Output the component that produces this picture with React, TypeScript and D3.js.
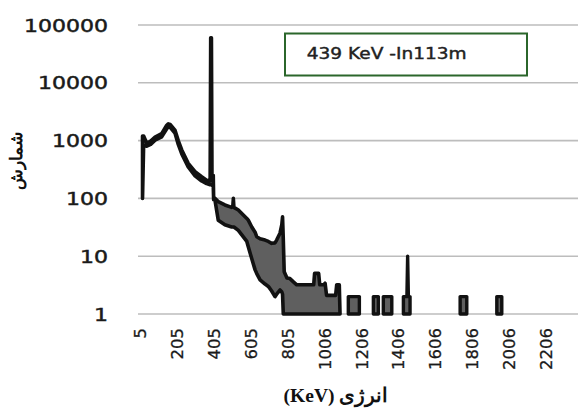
import React from 'react';
import * as d3 from 'd3';

const Y_TICKS = [1, 10, 100, 1000, 10000, 100000];
const X_TICKS = [5, 205, 405, 605, 805, 1006, 1206, 1406, 1606, 1806, 2006, 2206];

// main spectrum envelope: energy (keV), lower and upper counts
const SPEC_KEV = [16, 22, 39, 60, 84, 120, 145, 156, 166, 192, 210, 229, 264, 301, 337, 364, 383, 386, 390, 393, 400, 402, 409, 427, 463, 500, 506, 509, 512, 536, 582, 590, 609, 627, 636, 654, 681, 699, 717, 735, 744, 762, 772, 776, 780, 785, 800, 816, 835, 853, 945, 950, 972, 978, 1000, 1007, 1015, 1064, 1070, 1084, 1088];
const SPEC_LOW = [100, 830, 800, 860, 1020, 1160, 1550, 1750, 1700, 1350, 860, 590, 350, 245, 200, 180, 172, 172, 172, 170, 160, 95, 94, 42, 35, 32, 32, 32, 32, 28, 18, 14.6, 9, 5.8, 5, 3.9, 3.3, 3, 2.5, 2, 2.2, 2.6, 2.4, 2.2, 1, 1, 1, 1, 1, 1, 1, 1, 1, 1, 1, 1, 1, 1, 1, 1, 1];
const SPEC_HIGH = [1200, 1200, 900, 980, 1150, 1320, 1800, 1950, 1900, 1520, 1000, 690, 405, 290, 237, 207, 200, 60000, 60000, 260, 250, 105, 100, 88, 77, 70, 72, 100, 70, 63, 45, 42, 32, 26, 21.7, 20, 19, 18, 16.7, 17, 19, 25, 35, 48, 20, 5.4, 4.2, 4.1, 3.6, 3.2, 3.2, 5.05, 5.05, 3.2, 3.2, 3.4, 2.1, 2.1, 3.2, 3.2, 1];

// isolated low-count pulses
const PULSE_START = [1133, 1269, 1323, 1432, 1740, 1939];
const PULSE_END = [1193, 1296, 1369, 1468, 1776, 1966];
const PULSE_LEVEL = [2, 2, 2, 2, 2, 2];
const PULSE_SPIKE_KEV = [0, 0, 0, 1455, 0, 0];
const PULSE_SPIKE_VAL = [0, 0, 0, 10, 0, 0];

const LEGEND_TEXT = '439 KeV -In113m';
const X_TITLE = '(KeV) انرژی';
const Y_TITLE = 'شمارش';

type Pt = [number, number, number];

export default function App() {
  const W = 579, H = 408;
  const x = d3.scaleLinear().domain([5, 2206]).range([140.5, 546]);
  const y = d3.scaleLog().domain([1, 100000]).range([314, 25]);
  const gridX0 = 138, gridX1 = 578;

  const area = d3
    .area<Pt>()
    .x((d) => x(d[0]))
    .y0((d) => y(d[1]))
    .y1((d) => y(d[2]));

  const main: Pt[] = SPEC_KEV.map((k, i) => [k, SPEC_LOW[i], SPEC_HIGH[i]]);
  const pulses: Pt[][] = PULSE_START.map((s, i) => {
    const e = PULSE_END[i];
    const lv = PULSE_LEVEL[i];
    const pts: Pt[] = [[s, 1, lv]];
    if (PULSE_SPIKE_VAL[i] > 0) {
      const pk = PULSE_SPIKE_KEV[i];
      pts.push([pk - 4, 1, lv], [pk, 1, PULSE_SPIKE_VAL[i]], [pk + 4, 1, lv]);
    }
    pts.push([e, 1, lv]);
    return pts;
  });

  const tickFont = "'DejaVu Sans', Verdana, sans-serif";
  const serif = "'Liberation Serif', 'Times New Roman', 'DejaVu Serif', serif";

  return (
    <svg width={W} height={H} style={{ position: 'absolute', left: 0, top: 0, background: '#fff' }}>
      <rect x={0} y={0} width={W} height={H} fill="#fff" />
      {Y_TICKS.map((t) => (
        <g key={t}>
          <line x1={gridX0} x2={gridX1} y1={y(t)} y2={y(t)} stroke="#bdbdbd" strokeWidth={1.6} />
          <text
            x={108}
            y={y(t) + 6.6}
            textAnchor="end"
            fontFamily={tickFont}
            fontSize={18}
            fill="#1a1a1a"
            stroke="#1a1a1a"
            strokeWidth={0.5}
            textLength={String(t).length * 14}
            lengthAdjust="spacingAndGlyphs"
          >
            {t}
          </text>
        </g>
      ))}
      {X_TICKS.map((t) => (
        <text
          key={t}
          transform={`translate(${x(t) + 5.8},328) rotate(-90)`}
          textAnchor="end"
          fontFamily={tickFont}
          fontSize={16.5}
          fill="#1a1a1a"
          stroke="#1a1a1a"
          strokeWidth={0.3}
        >
          {t}
        </text>
      ))}
      <path
        d={area(main) || ''}
        fill="#5f5f5f"
        stroke="#111"
        strokeWidth={3.6}
        strokeLinejoin="round"
      />
      {pulses.map((p, i) => (
        <path
          key={i}
          d={area(p) || ''}
          fill="#5f5f5f"
          stroke="#111"
          strokeWidth={3.4}
          strokeLinejoin="round"
        />
      ))}
      <rect x={285} y={33.5} width={242} height={42} fill="#fff" stroke="#2b662b" strokeWidth={2} />
      <text
        x={306.7}
        y={58.5}
        fontFamily={tickFont}
        fontSize={15}
        fill="#222"
        stroke="#222"
        strokeWidth={0.4}
        textLength={160}
        lengthAdjust="spacingAndGlyphs"
      >
        {LEGEND_TEXT}
      </text>
      <text
        x={336}
        y={402}
        textAnchor="middle"
        fontFamily={serif}
        fontWeight="bold"
        fontSize={19.5}
        fill="#111"
      >
        {X_TITLE}
      </text>
      <text
        transform="translate(22,161) rotate(-90)"
        textAnchor="middle"
        fontFamily={serif}
        fontWeight="bold"
        fontSize={17}
        fill="#111"
      >
        {Y_TITLE}
      </text>
    </svg>
  );
}
